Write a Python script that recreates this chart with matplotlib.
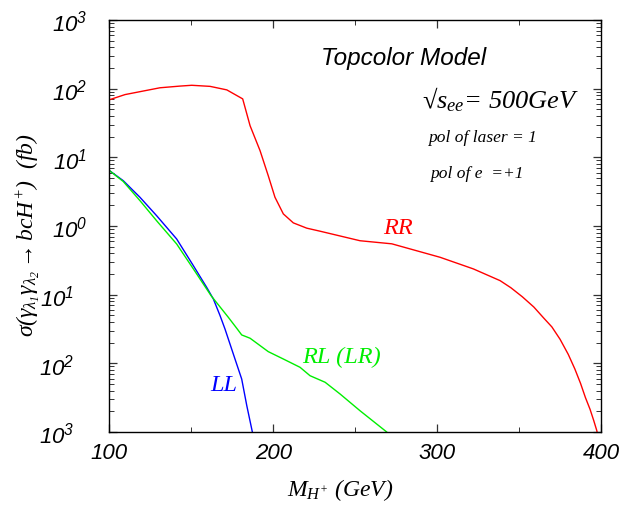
import numpy as np
import matplotlib
matplotlib.use('Agg')
import matplotlib.pyplot as plt
import matplotlib.ticker as mticker
import matplotlib.transforms as mtrans

plt.rcParams['mathtext.fontset'] = 'custom'
plt.rcParams['mathtext.rm'] = 'Liberation Serif:italic'
plt.rcParams['mathtext.it'] = 'Liberation Serif:italic'
plt.rcParams['mathtext.sf'] = 'Liberation Sans:italic'

# RR curve (fb)
rr_mass = [100, 109.5, 130.8, 143, 150.2, 161.4, 171.6, 181.3, 185.8, 191.9, 196.9,
           201.0, 206.1, 212.2, 220.4, 228.5, 252.9, 272.3, 301.8, 322.1, 338.4,
           345, 352, 359, 365, 370, 375, 380, 384, 387.5, 390.5, 393.3, 395.5,
           397.4, 398.5]
rr_sig = [69, 82, 103, 109, 112, 108, 96, 71, 28.9, 12.5, 5.4,
          2.62, 1.50, 1.11, 0.93, 0.84, 0.61, 0.55, 0.35, 0.237, 0.160,
          0.126, 0.093, 0.066, 0.0457, 0.0339, 0.0224, 0.0135, 0.0083, 0.0051,
          0.00316, 0.00214, 0.00148, 0.00105, 0.00079]

# LL curve
ll_mass = [100, 108.4, 118.6, 128.8, 141.0, 151.2, 159.3, 163.4, 167.5, 170.5,
           176.6, 180.7, 183.8, 187.2, 188.0]
ll_sig = [6.4, 4.57, 2.62, 1.41, 0.647, 0.264, 0.128, 0.0865, 0.0494, 0.0316,
          0.01156, 0.0059, 0.00242, 0.0010, 0.0008]

# RL (LR) curve
rl_mass = [100, 108.4, 118.6, 128.8, 141.0, 151.2, 162.0, 172.5, 178.0, 180.7,
           185.8, 196.9, 206.1, 216.3, 222.4, 231.6, 240.7, 252.9, 269.2, 271.0]
rl_sig = [6.4, 4.45, 2.34, 1.19, 0.547, 0.237, 0.0966, 0.0469, 0.0316, 0.0259,
          0.0232, 0.0148, 0.01156, 0.00875, 0.0066, 0.0053, 0.00358, 0.00204,
          0.0010, 0.0009]

xticks = [100, 200, 300, 400]
yticks = [1e-3, 1e-2, 1e-1, 1e0, 1e1, 1e2, 1e3]
ytick_exp = ['3', '2', '1', '0', '1', '2', '3']  # as printed in the figure

fig = plt.figure(figsize=(6.31, 5.06), dpi=100)
ax = fig.add_axes([0.1735, 0.1443, 0.779, 0.8142])

ax.plot(rr_mass, rr_sig, color='#ff0000', lw=1.0)
ax.plot(ll_mass, ll_sig, color='#0000ff', lw=1.0)
ax.plot(rl_mass, rl_sig, color='#00ee00', lw=1.0)

ax.set_yscale('log')
ax.set_xlim(100, 400)
ax.set_ylim(1e-3, 1e3)

ax.set_xticks(xticks)
ax.set_xticklabels([str(v) for v in xticks], fontfamily='Liberation Sans',
                   fontstyle='italic', fontsize=16)
ax.xaxis.set_minor_locator(mticker.MultipleLocator(50))
ax.set_yticks(yticks)
ax.set_yticklabels([r'$\mathsf{10^{%s}}$' % e for e in ytick_exp], fontsize=16)
ax.yaxis.set_minor_locator(mticker.LogLocator(base=10, subs=np.arange(2, 10), numticks=20))
ax.yaxis.set_minor_formatter(mticker.NullFormatter())

ax.tick_params(which='both', direction='in', top=True, right=True, color='#333333')
ax.tick_params(which='major', length=6, width=0.9)
ax.tick_params(which='minor', length=3.5, width=0.7)
ax.tick_params(axis='x', pad=7)
ax.tick_params(axis='y', pad=16)

# the negative-exponent labels sit further left in the original
shift = mtrans.ScaledTranslation(-13 / 100, 0, fig.dpi_scale_trans)
for lab, v in zip(ax.get_yticklabels(), yticks):
    if v < 1:
        lab.set_transform(lab.get_transform() + shift)

for s in ax.spines.values():
    s.set_linewidth(1.0)
    s.set_color('black')

serif = dict(fontfamily='Liberation Serif', fontstyle='italic')
ax.text(229, 288, 'Topcolor Model', fontfamily='Liberation Sans', fontstyle='italic',
        fontsize=17.5, va='center')
ax.text(290.8, 71, '\u221a' + r'$s_{ee}$= 500GeV', fontsize=19, va='center', **serif)
ax.text(294.5, 19.8, 'pol of laser = 1', fontsize=12.5, va='center', **serif)
ax.text(295.7, 5.9, 'pol of e  =+1', fontsize=12.5, va='center', **serif)
ax.text(267, 0.935, 'RR', color='#ff0000', fontsize=17.5, va='center', **serif)
ax.text(217.5, 0.0128, 'RL (LR)', color='#00ee00', fontsize=17.5, va='center', **serif)
ax.text(161.4, 0.00484, 'LL', color='#0000ff', fontsize=17.5, va='center', **serif)

fig.text(28 / 631, 1 - 235 / 506,
         r'$\sigma(\gamma_{\lambda_1}\gamma_{\lambda_2}\rightarrow bcH^{+})$  (fb)',
         rotation=90, ha='center', va='center', fontsize=17, **serif)
fig.text(340 / 631, 1 - 490 / 506, r'$M_{H^{+}}$ (GeV)', ha='center', va='center',
         fontsize=17, **serif)

fig.savefig('out.png', dpi=100)
